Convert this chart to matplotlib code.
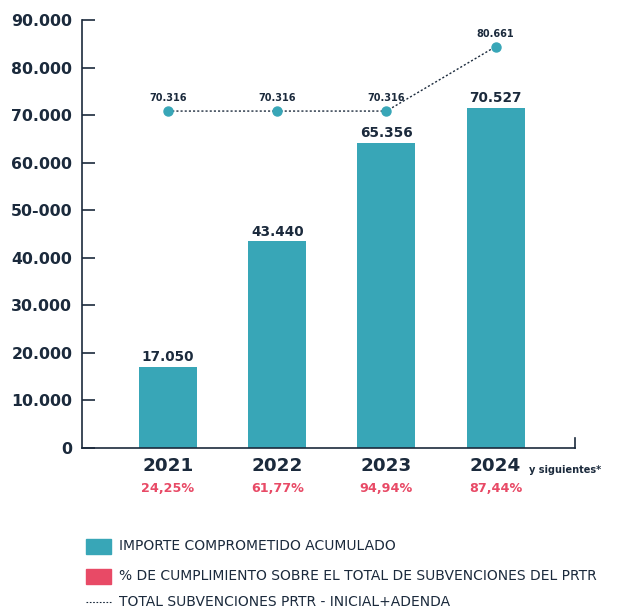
import matplotlib.pyplot as plt
from matplotlib.patches import Rectangle
from matplotlib.lines import Line2D

# datos (alturas; etiquetas tal cual aparecen)
years = ['2021', '2022', '2023', '2024']
importe = [17030, 43500, 64200, 71550]
importe_lbl = ['17.050', '43.440', '65.356', '70.527']
cumplimiento = ['24,25%', '61,77%', '94,94%', '87,44%']
total_prtr = [70850, 70850, 70850, 84400]
total_lbl = ['70.316', '70.316', '70.316', '80.661']
yticks = [0, 10000, 20000, 30000, 40000, 50000, 60000, 70000, 80000, 90000]
ytick_lbl = ['0', '10.000', '20.000', '30.000', '40.000', '50-000',
             '60.000', '70.000', '80.000', '90.000']

navy = '#1b2a3c'
teal = '#38a6b7'
pink = '#e84a66'
font = 'DejaVu Sans'

fig = plt.figure(figsize=(6.33, 6.09), dpi=100)
W, H = 633, 609
ax = fig.add_axes([82 / W, 1 - 448 / H, 493 / W, 428 / H])

x = list(range(len(years)))
ax.bar(x, importe, width=0.53, color=teal, zorder=2)
ax.plot(x, total_prtr, linestyle=(0, (1.5, 1.5)), color=navy, linewidth=1,
        marker='o', markersize=6.5, markerfacecolor=teal, markeredgecolor=teal, zorder=3)

for i, (v, lbl) in enumerate(zip(importe, importe_lbl)):
    ax.annotate(lbl, (i, v), xytext=(0, 4), textcoords='offset points', ha='center', va='baseline',
                fontsize=9.8, fontweight='bold', color=navy, family=font)
for i, (v, lbl) in enumerate(zip(total_prtr, total_lbl)):
    ax.annotate(lbl, (i, v), xytext=(0, 7), textcoords='offset points', ha='center', va='baseline',
                fontsize=7, fontweight='bold', color=navy, family=font)

ax.set_xlim(-0.788, 3.727)
ax.set_ylim(0, 90000)
ax.set_yticks(yticks)
ax.set_yticklabels(ytick_lbl, fontsize=11.3, fontweight='bold', color=navy, family=font)
ax.tick_params(axis='y', direction='in', length=9, width=1.2, color=navy, pad=7)
ax.set_xticks([])
for s in ['top', 'right']:
    ax.spines[s].set_visible(False)
for s in ['left', 'bottom']:
    ax.spines[s].set_color(navy)
    ax.spines[s].set_linewidth(1.2)
ax.plot([1, 1], [0, 0.024], transform=ax.transAxes, color=navy, linewidth=1.2, clip_on=False)

# etiquetas de años y porcentajes
for i, (yr, pc) in enumerate(zip(years, cumplimiento)):
    ax.annotate(yr, (i, 0), xytext=(0, -13.3), textcoords='offset points', ha='center', va='center',
                fontsize=13.2, fontweight='bold', color=navy, family=font, annotation_clip=False)
    ax.annotate(pc, (i, 0), xytext=(0, -29.5), textcoords='offset points', ha='center', va='center',
                fontsize=9.2, fontweight='bold', color=pink, family=font, annotation_clip=False)
ax.annotate('y siguientes*', (3, 0), xytext=(24, -18.3), textcoords='offset points', ha='left',
            va='baseline', fontsize=7, fontweight='bold', color=navy, family=font,
            annotation_clip=False)

# leyenda
fig.patches.append(Rectangle((86 / W, 1 - 554 / H), 25 / W, 15 / H, color=teal,
                             transform=fig.transFigure))
fig.patches.append(Rectangle((86 / W, 1 - 584 / H), 25 / W, 15 / H, color=pink,
                             transform=fig.transFigure))
fig.lines.append(Line2D([86 / W, 111 / W], [1 - 602 / H, 1 - 602 / H], color=navy, linewidth=0.8,
                        linestyle=(0, (1.5, 1.5)), transform=fig.transFigure))
legend_txt = ['IMPORTE COMPROMETIDO ACUMULADO',
              '% DE CUMPLIMIENTO SOBRE EL TOTAL DE SUBVENCIONES DEL PRTR',
              'TOTAL SUBVENCIONES PRTR - INICIAL+ADENDA']
for t, yy in zip(legend_txt, [546, 576, 602]):
    fig.text(119 / W, 1 - yy / H, t, ha='left', va='center', fontsize=10, color=navy, family=font)

fig.savefig('out.png', dpi=100)
